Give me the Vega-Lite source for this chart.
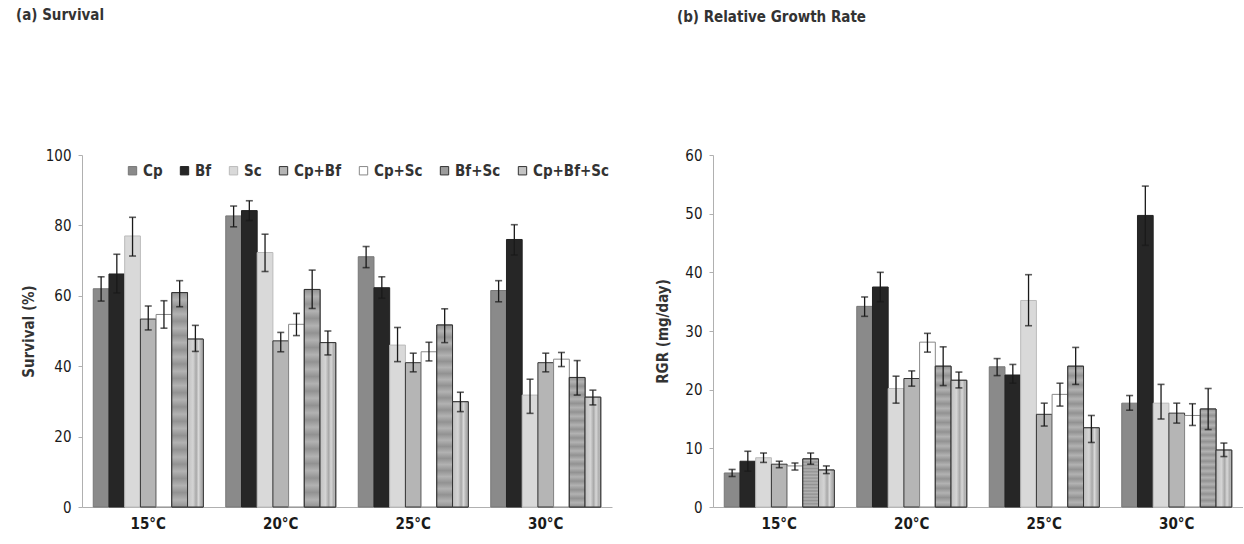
{
  "$schema": "https://vega.github.io/schema/vega-lite/v6.json",
  "background": "white",
  "padding": {"left": 16, "top": 8, "right": 0, "bottom": 5},
  "spacing": 43,
  "datasets": {
    "surv": [
      {"temp": "15°C", "trt": "Cp", "mean": 62.0, "lo": 58.5, "hi": 65.4},
      {"temp": "15°C", "trt": "Bf", "mean": 66.2, "lo": 60.8, "hi": 71.8},
      {"temp": "15°C", "trt": "Sc", "mean": 77.0, "lo": 71.3, "hi": 82.3},
      {"temp": "15°C", "trt": "Cp+Bf", "mean": 53.4, "lo": 50.3, "hi": 57.1},
      {"temp": "15°C", "trt": "Cp+Sc", "mean": 54.7, "lo": 50.8, "hi": 58.6},
      {"temp": "15°C", "trt": "Bf+Sc", "mean": 60.9, "lo": 56.9, "hi": 64.3},
      {"temp": "15°C", "trt": "Cp+Bf+Sc", "mean": 47.7, "lo": 44.2, "hi": 51.6},
      {"temp": "20°C", "trt": "Cp", "mean": 82.7, "lo": 79.6, "hi": 85.5},
      {"temp": "20°C", "trt": "Bf", "mean": 84.2, "lo": 81.4, "hi": 87.0},
      {"temp": "20°C", "trt": "Sc", "mean": 72.3, "lo": 66.9, "hi": 77.5},
      {"temp": "20°C", "trt": "Cp+Bf", "mean": 47.2, "lo": 44.1, "hi": 49.6},
      {"temp": "20°C", "trt": "Cp+Sc", "mean": 51.9, "lo": 48.7, "hi": 55.0},
      {"temp": "20°C", "trt": "Bf+Sc", "mean": 61.8, "lo": 56.4, "hi": 67.3},
      {"temp": "20°C", "trt": "Cp+Bf+Sc", "mean": 46.7, "lo": 43.2, "hi": 50.0},
      {"temp": "25°C", "trt": "Cp", "mean": 71.1, "lo": 68.0, "hi": 74.0},
      {"temp": "25°C", "trt": "Bf", "mean": 62.3, "lo": 59.3, "hi": 65.4},
      {"temp": "25°C", "trt": "Sc", "mean": 46.0, "lo": 41.3, "hi": 51.0},
      {"temp": "25°C", "trt": "Cp+Bf", "mean": 41.0, "lo": 38.4, "hi": 43.7},
      {"temp": "25°C", "trt": "Cp+Sc", "mean": 44.1, "lo": 41.5, "hi": 46.8},
      {"temp": "25°C", "trt": "Bf+Sc", "mean": 51.7, "lo": 46.7, "hi": 56.3},
      {"temp": "25°C", "trt": "Cp+Bf+Sc", "mean": 29.9, "lo": 27.1, "hi": 32.6},
      {"temp": "30°C", "trt": "Cp", "mean": 61.5, "lo": 58.3, "hi": 64.3},
      {"temp": "30°C", "trt": "Bf", "mean": 76.0, "lo": 71.6, "hi": 80.2},
      {"temp": "30°C", "trt": "Sc", "mean": 31.8, "lo": 26.6, "hi": 36.3},
      {"temp": "30°C", "trt": "Cp+Bf", "mean": 41.0, "lo": 38.4, "hi": 43.7},
      {"temp": "30°C", "trt": "Cp+Sc", "mean": 42.0, "lo": 39.9, "hi": 43.9},
      {"temp": "30°C", "trt": "Bf+Sc", "mean": 36.8, "lo": 31.8, "hi": 41.6},
      {"temp": "30°C", "trt": "Cp+Bf+Sc", "mean": 31.2, "lo": 29.0, "hi": 33.2}
    ],
    "rgr": [
      {"temp": "15°C", "trt": "Cp", "mean": 5.8, "lo": 5.2, "hi": 6.4},
      {"temp": "15°C", "trt": "Bf", "mean": 7.8, "lo": 6.1, "hi": 9.5},
      {"temp": "15°C", "trt": "Sc", "mean": 8.4, "lo": 7.6, "hi": 9.2},
      {"temp": "15°C", "trt": "Cp+Bf", "mean": 7.3, "lo": 6.7, "hi": 7.8},
      {"temp": "15°C", "trt": "Cp+Sc", "mean": 7.0, "lo": 6.3, "hi": 7.5},
      {"temp": "15°C", "trt": "Bf+Sc", "mean": 8.2, "lo": 7.3, "hi": 9.2},
      {"temp": "15°C", "trt": "Cp+Bf+Sc", "mean": 6.3, "lo": 5.7, "hi": 7.0},
      {"temp": "20°C", "trt": "Cp", "mean": 34.2, "lo": 32.5, "hi": 35.8},
      {"temp": "20°C", "trt": "Bf", "mean": 37.5, "lo": 35.0, "hi": 40.0},
      {"temp": "20°C", "trt": "Sc", "mean": 20.2, "lo": 17.7, "hi": 22.3},
      {"temp": "20°C", "trt": "Cp+Bf", "mean": 21.9, "lo": 20.6, "hi": 23.2},
      {"temp": "20°C", "trt": "Cp+Sc", "mean": 28.1, "lo": 26.4, "hi": 29.6},
      {"temp": "20°C", "trt": "Bf+Sc", "mean": 24.0, "lo": 20.7, "hi": 27.3},
      {"temp": "20°C", "trt": "Cp+Bf+Sc", "mean": 21.6, "lo": 20.3, "hi": 23.0},
      {"temp": "25°C", "trt": "Cp", "mean": 23.9, "lo": 22.4, "hi": 25.3},
      {"temp": "25°C", "trt": "Bf", "mean": 22.5, "lo": 21.1, "hi": 24.3},
      {"temp": "25°C", "trt": "Sc", "mean": 35.2, "lo": 30.9, "hi": 39.6},
      {"temp": "25°C", "trt": "Cp+Bf", "mean": 15.8, "lo": 13.8, "hi": 17.7},
      {"temp": "25°C", "trt": "Cp+Sc", "mean": 19.2, "lo": 17.2, "hi": 21.1},
      {"temp": "25°C", "trt": "Bf+Sc", "mean": 24.0, "lo": 20.9, "hi": 27.2},
      {"temp": "25°C", "trt": "Cp+Bf+Sc", "mean": 13.5, "lo": 11.0, "hi": 15.6},
      {"temp": "30°C", "trt": "Cp", "mean": 17.7, "lo": 16.5, "hi": 19.0},
      {"temp": "30°C", "trt": "Bf", "mean": 49.7, "lo": 44.6, "hi": 54.7},
      {"temp": "30°C", "trt": "Sc", "mean": 17.7, "lo": 15.0, "hi": 20.9},
      {"temp": "30°C", "trt": "Cp+Bf", "mean": 16.0, "lo": 14.3, "hi": 17.7},
      {"temp": "30°C", "trt": "Cp+Sc", "mean": 15.6, "lo": 13.9, "hi": 17.6},
      {"temp": "30°C", "trt": "Bf+Sc", "mean": 16.7, "lo": 13.2, "hi": 20.2},
      {"temp": "30°C", "trt": "Cp+Bf+Sc", "mean": 9.7, "lo": 8.6, "hi": 10.9}
    ]
  },
  "hconcat": [
    {
      "width": 530,
      "height": 352,
      "title": {"text": "(a) Survival", "anchor": "start", "frame": "group", "dx": -66, "offset": 125},
      "data": {"name": "surv"},
      "encoding": {
        "x": {"field": "temp", "type": "nominal", "sort": ["15°C", "20°C", "25°C", "30°C"], "title": null,
              "scale": {"paddingInner": 0.17, "paddingOuter": 0.085}},
        "xOffset": {"field": "trt", "type": "nominal",
                    "scale": {"domain": ["Cp", "Bf", "Sc", "Cp+Bf", "Cp+Sc", "Bf+Sc", "Cp+Bf+Sc"], "paddingInner": 0, "paddingOuter": 0}},
        "y": {"field": "mean", "type": "quantitative", "title": "Survival (%)",
              "scale": {"domain": [0, 100], "nice": false},
              "axis": {"values": [0, 20, 40, 60, 80, 100]}}
      },
      "layer": [
        {
          "mark": {"type": "bar", "strokeWidth": 1},
          "encoding": {
            "fill": {"field": "trt", "type": "nominal",
                     "scale": {"domain": ["Cp", "Bf", "Sc", "Cp+Bf", "Cp+Sc", "Bf+Sc", "Cp+Bf+Sc"],
                               "range": ["#8a8a8a", "#262626", "#d9d9d9", "#b5b5b5", "#ffffff", "#9c9c9c", "#c4c4c4"]},
                     "legend": {"orient": "none", "legendX": 43, "legendY": 8, "direction": "horizontal", "title": null}},
            "stroke": {"field": "trt", "type": "nominal",
                       "scale": {"domain": ["Cp", "Bf", "Sc", "Cp+Bf", "Cp+Sc", "Bf+Sc", "Cp+Bf+Sc"],
                                 "range": ["#777777", "#222222", "#bbbbbb", "#333333", "#888888", "#333333", "#333333"]},
                       "legend": null}
          }
        },
        {
          "transform": [{"filter": "datum.trt === 'Bf+Sc'"}],
          "mark": {"type": "bar", "stroke": "#333333", "strokeWidth": 1,
                   "fill": {"gradient": "linear", "x1": 0, "y1": 0, "x2": 0, "y2": 1, "stops": [
                     {"offset": 0, "color": "#929292"}, {"offset": 0.033, "color": "#b2b2b2"}, {"offset": 0.067, "color": "#929292"},
                     {"offset": 0.1, "color": "#b2b2b2"}, {"offset": 0.133, "color": "#929292"}, {"offset": 0.167, "color": "#b2b2b2"},
                     {"offset": 0.2, "color": "#929292"}, {"offset": 0.233, "color": "#b2b2b2"}, {"offset": 0.267, "color": "#929292"},
                     {"offset": 0.3, "color": "#b2b2b2"}, {"offset": 0.333, "color": "#929292"}, {"offset": 0.367, "color": "#b2b2b2"},
                     {"offset": 0.4, "color": "#929292"}, {"offset": 0.433, "color": "#b2b2b2"}, {"offset": 0.467, "color": "#929292"},
                     {"offset": 0.5, "color": "#b2b2b2"}, {"offset": 0.533, "color": "#929292"}, {"offset": 0.567, "color": "#b2b2b2"},
                     {"offset": 0.6, "color": "#929292"}, {"offset": 0.633, "color": "#b2b2b2"}, {"offset": 0.667, "color": "#929292"},
                     {"offset": 0.7, "color": "#b2b2b2"}, {"offset": 0.733, "color": "#929292"}, {"offset": 0.767, "color": "#b2b2b2"},
                     {"offset": 0.8, "color": "#929292"}, {"offset": 0.833, "color": "#b2b2b2"}, {"offset": 0.867, "color": "#929292"},
                     {"offset": 0.9, "color": "#b2b2b2"}, {"offset": 0.933, "color": "#929292"}, {"offset": 0.967, "color": "#b2b2b2"},
                     {"offset": 1, "color": "#929292"}]}},
          "encoding": {}
        },
        {
          "transform": [{"filter": "datum.trt === 'Cp+Bf+Sc'"}],
          "mark": {"type": "bar", "stroke": "#333333", "strokeWidth": 1,
                   "fill": {"gradient": "linear", "x1": 0, "y1": 0, "x2": 1, "y2": 0, "stops": [
                     {"offset": 0, "color": "#c0c0c0"}, {"offset": 0.35, "color": "#d4d4d4"}, {"offset": 0.55, "color": "#a8a8a8"},
                     {"offset": 0.7, "color": "#d8d8d8"}, {"offset": 0.88, "color": "#acacac"}, {"offset": 1, "color": "#c8c8c8"}]}},
          "encoding": {}
        },
        {
          "mark": {"type": "rule", "color": "#1a1a1a", "strokeWidth": 1.3},
          "encoding": {"y": {"field": "lo", "type": "quantitative"}, "y2": {"field": "hi"}}
        },
        {
          "mark": {"type": "tick", "color": "#1a1a1a", "thickness": 1.6, "size": 7},
          "encoding": {"y": {"field": "lo", "type": "quantitative"}}
        },
        {
          "mark": {"type": "tick", "color": "#1a1a1a", "thickness": 1.6, "size": 7},
          "encoding": {"y": {"field": "hi", "type": "quantitative"}}
        }
      ]
    },
    {
      "width": 530,
      "height": 352,
      "title": {"text": "(b) Relative Growth Rate", "anchor": "start", "frame": "group", "dx": -36, "offset": 123},
      "data": {"name": "rgr"},
      "encoding": {
        "x": {"field": "temp", "type": "nominal", "sort": ["15°C", "20°C", "25°C", "30°C"], "title": null,
              "scale": {"paddingInner": 0.17, "paddingOuter": 0.085}},
        "xOffset": {"field": "trt", "type": "nominal",
                    "scale": {"domain": ["Cp", "Bf", "Sc", "Cp+Bf", "Cp+Sc", "Bf+Sc", "Cp+Bf+Sc"], "paddingInner": 0, "paddingOuter": 0}},
        "y": {"field": "mean", "type": "quantitative", "title": "RGR (mg/day)",
              "scale": {"domain": [0, 60], "nice": false},
              "axis": {"values": [0, 10, 20, 30, 40, 50, 60], "titlePadding": 14}}
      },
      "layer": [
        {
          "mark": {"type": "bar", "strokeWidth": 1},
          "encoding": {
            "fill": {"field": "trt", "type": "nominal",
                     "scale": {"domain": ["Cp", "Bf", "Sc", "Cp+Bf", "Cp+Sc", "Bf+Sc", "Cp+Bf+Sc"],
                               "range": ["#8a8a8a", "#262626", "#d9d9d9", "#b5b5b5", "#ffffff", "#9c9c9c", "#c4c4c4"]},
                     "legend": {"orient": "none", "legendX": 30, "legendY": 8, "direction": "horizontal", "title": null}},
            "stroke": {"field": "trt", "type": "nominal",
                       "scale": {"domain": ["Cp", "Bf", "Sc", "Cp+Bf", "Cp+Sc", "Bf+Sc", "Cp+Bf+Sc"],
                                 "range": ["#777777", "#222222", "#bbbbbb", "#333333", "#888888", "#333333", "#333333"]},
                       "legend": null}
          }
        },
        {
          "transform": [{"filter": "datum.trt === 'Bf+Sc'"}],
          "mark": {"type": "bar", "stroke": "#333333", "strokeWidth": 1,
                   "fill": {"gradient": "linear", "x1": 0, "y1": 0, "x2": 0, "y2": 1, "stops": [
                     {"offset": 0, "color": "#929292"}, {"offset": 0.033, "color": "#b2b2b2"}, {"offset": 0.067, "color": "#929292"},
                     {"offset": 0.1, "color": "#b2b2b2"}, {"offset": 0.133, "color": "#929292"}, {"offset": 0.167, "color": "#b2b2b2"},
                     {"offset": 0.2, "color": "#929292"}, {"offset": 0.233, "color": "#b2b2b2"}, {"offset": 0.267, "color": "#929292"},
                     {"offset": 0.3, "color": "#b2b2b2"}, {"offset": 0.333, "color": "#929292"}, {"offset": 0.367, "color": "#b2b2b2"},
                     {"offset": 0.4, "color": "#929292"}, {"offset": 0.433, "color": "#b2b2b2"}, {"offset": 0.467, "color": "#929292"},
                     {"offset": 0.5, "color": "#b2b2b2"}, {"offset": 0.533, "color": "#929292"}, {"offset": 0.567, "color": "#b2b2b2"},
                     {"offset": 0.6, "color": "#929292"}, {"offset": 0.633, "color": "#b2b2b2"}, {"offset": 0.667, "color": "#929292"},
                     {"offset": 0.7, "color": "#b2b2b2"}, {"offset": 0.733, "color": "#929292"}, {"offset": 0.767, "color": "#b2b2b2"},
                     {"offset": 0.8, "color": "#929292"}, {"offset": 0.833, "color": "#b2b2b2"}, {"offset": 0.867, "color": "#929292"},
                     {"offset": 0.9, "color": "#b2b2b2"}, {"offset": 0.933, "color": "#929292"}, {"offset": 0.967, "color": "#b2b2b2"},
                     {"offset": 1, "color": "#929292"}]}},
          "encoding": {}
        },
        {
          "transform": [{"filter": "datum.trt === 'Cp+Bf+Sc'"}],
          "mark": {"type": "bar", "stroke": "#333333", "strokeWidth": 1,
                   "fill": {"gradient": "linear", "x1": 0, "y1": 0, "x2": 1, "y2": 0, "stops": [
                     {"offset": 0, "color": "#c0c0c0"}, {"offset": 0.35, "color": "#d4d4d4"}, {"offset": 0.55, "color": "#a8a8a8"},
                     {"offset": 0.7, "color": "#d8d8d8"}, {"offset": 0.88, "color": "#acacac"}, {"offset": 1, "color": "#c8c8c8"}]}},
          "encoding": {}
        },
        {
          "mark": {"type": "rule", "color": "#1a1a1a", "strokeWidth": 1.3},
          "encoding": {"y": {"field": "lo", "type": "quantitative"}, "y2": {"field": "hi"}}
        },
        {
          "mark": {"type": "tick", "color": "#1a1a1a", "thickness": 1.6, "size": 7},
          "encoding": {"y": {"field": "lo", "type": "quantitative"}}
        },
        {
          "mark": {"type": "tick", "color": "#1a1a1a", "thickness": 1.6, "size": 7},
          "encoding": {"y": {"field": "hi", "type": "quantitative"}}
        }
      ]
    }
  ],
  "config": {
    "font": "'Liberation Sans Narrow', 'Arial Narrow', 'DejaVu Sans Condensed', 'Liberation Sans', sans-serif",
    "view": {"stroke": null},
    "title": {"fontSize": 15, "fontWeight": "bold", "color": "#333333", "font": "'Liberation Sans Narrow', 'Arial Narrow', 'DejaVu Sans Condensed', 'Liberation Sans', sans-serif"},
    "axis": {"domainColor": "#b0b0b0", "tickColor": "#b0b0b0", "grid": false, "labelColor": "#1a1a1a",
             "labelFontSize": 15, "labelFont": "'Liberation Sans Narrow', 'Arial Narrow', 'DejaVu Sans Condensed', 'Liberation Sans', sans-serif",
             "titleFont": "'Liberation Sans Narrow', 'Arial Narrow', 'DejaVu Sans Condensed', 'Liberation Sans', sans-serif",
             "titleFontSize": 15, "titleFontWeight": "bold", "titleColor": "#333333"},
    "axisY": {"tickSize": 4, "labelPadding": 7, "titlePadding": 9},
    "axisX": {"ticks": false, "labelPadding": 9, "labelAngle": 0, "labelFontWeight": "bold", "domainColor": "#b0b0b0"},
    "legend": {"symbolType": "square", "symbolSize": 70, "symbolStrokeColor": "#444444", "symbolStrokeWidth": 1,
               "labelFontSize": 15, "labelFont": "'Liberation Sans Narrow', 'Arial Narrow', 'DejaVu Sans Condensed', 'Liberation Sans', sans-serif",
               "labelFontWeight": "bold", "labelColor": "#333333",
               "labelOffset": 3, "columnPadding": 14}
  }
}
